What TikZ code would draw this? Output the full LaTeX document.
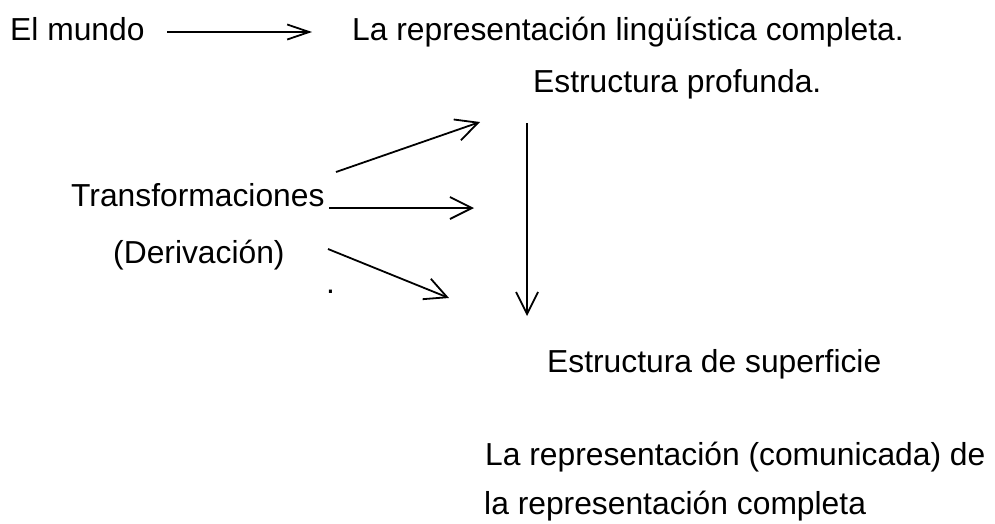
\documentclass[tikz,border=0pt]{standalone}
\usepackage{fontspec}
\setmainfont{Liberation Sans}
\usetikzlibrary{arrows.meta}
\tikzset{
  txt/.style={font=\fontsize{31.8pt}{38pt}\selectfont, inner sep=0pt, anchor=base west},
  conn/.style={line width=1.8pt, -{Straight Barb[length=22pt,width=22pt,line width=1.8pt]}},
  connflat/.style={line width=1.8pt, -{Straight Barb[length=22pt,width=15pt,line width=1.8pt]}}
}
\begin{document}
\begin{tikzpicture}[x=1pt,y=-1pt]
\fill[white] (0,0) rectangle (995,523);
\useasboundingbox (0,0) rectangle (995,523);
\node[txt] (mundo) at (10,40) {El mundo};
\node[txt] (rep) at (352,40) {La representación lingüística completa.};
\node[txt] (prof) at (533,92) {Estructura profunda.};
\node[txt] (trans) at (71,206) {Transformaciones};
\node[txt] (deriv) at (113,263) {(Derivación)};
\node[txt] (dot) at (326,293) {.};
\node[txt] (sup) at (547,372) {Estructura de superficie};
\node[txt] (com1) at (485,465) {La representación (comunicada) de};
\node[txt] (com2) at (484,514) {la representación completa};
\coordinate (m0) at (167,32);
\coordinate (m1) at (312,32);
\coordinate (u0) at (336,172);
\coordinate (u1) at (480,122);
\coordinate (h0) at (329,208);
\coordinate (h1) at (474,208);
\coordinate (l0) at (328,249);
\coordinate (l1) at (449,298);
\coordinate (v0) at (527,123);
\coordinate (v1) at (527,316);
\draw[connflat] (m0) -- (m1);
\draw[conn] (u0) -- (u1);
\draw[conn] (h0) -- (h1);
\draw[conn] (l0) -- (l1);
\draw[conn] (v0) -- (v1);
\end{tikzpicture}
\end{document}
